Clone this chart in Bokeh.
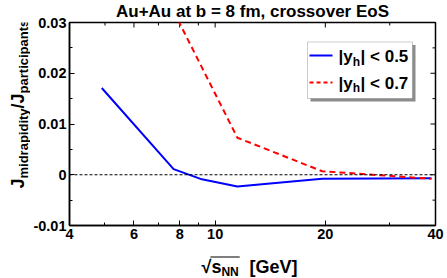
import math
from bokeh.plotting import figure
from bokeh.layouts import column, row
from bokeh.models import (Label, BoxAnnotation, Arrow, Span, FixedTicker, Range1d)
from bokeh.embed import file_html
from bokeh.resources import INLINE

# ---------------- data ----------------
energies_blue = [4.9, 7.7, 9.2, 11.5, 19.6, 39.0]
ratio_blue = [0.0171, 0.0011, -0.0009, -0.0023, -0.0008, -0.0007]
energies_red = [7.7, 11.5, 19.6, 39.0]
ratio_red = [0.0322, 0.0073, 0.0007, -0.0008]

x_ticks = [4, 6, 8, 10, 20, 40]
x_tick_labels = ["4", "6", "8", "10", "20", "40"]
x_minor = [5, 7, 9, 30]
y_ticks = [-0.01, 0, 0.01, 0.02, 0.03]
y_tick_labels = ["-0.01", "0", "0.01", "0.02", "0.03"]
y_minor = [-0.005, 0.005, 0.015, 0.025]

title_text = "Au+Au at b = 8 fm, crossover EoS"
legend_rows = [("|y", "h", "| < 0.5"), ("|y", "h", "| < 0.7")]
ylabel_parts = [("J", False), ("midrapidity", True), ("/J", False), ("participants", True)]
xlabel_parts = ("\u221a", "s", "NN", "[GeV]")

FONT = "Liberation Sans"

# Arial/Liberation Sans Bold advance widths (per 1000 em)
W = {"J": 556, "m": 889, "i": 278, "d": 611, "r": 389, "a": 556, "p": 611,
     "t": 333, "y": 556, "/": 278, "c": 556, "n": 611, "s": 556, "|": 280,
     "h": 611, " ": 278, "<": 584, "0": 556, ".": 278, "5": 556, "7": 556,
     "\u221a": 549, "N": 722, "[": 333, "G": 778, "e": 556, "V": 667, "]": 333}


def tw(text, size):
    return sum(W.get(c, 556) for c in text) * size / 1000.0


# ---------------- geometry (picture pixels) ----------------
WIDTH, HEIGHT = 447, 278
YLAB_W = 30                 # strip at the left holding the y label
XLAB_TOP = 253              # strip at the bottom holding the x label
FL, FR, FT, FB = 66, 435, 22, 225   # plot frame
BASE_FIX = 0.24             # measured offset of Bokeh's alphabetic anchor

x_lo, x_hi = 4, 40
y_lo, y_hi = -0.01, 0.03


def make_label(fig_left, fig_bottom):
    """Put bold text with its baseline at picture pixel coordinates,
    in a figure whose frame starts at (fig_left, fig_bottom)."""
    def put(target, text, px, py, size, angle=0.0, align="left"):
        ax = px - BASE_FIX * size * math.sin(angle)
        ay = py - BASE_FIX * size * math.cos(angle)
        target.add_layout(Label(x=ax - fig_left, y=fig_bottom - ay,
                                x_units="screen", y_units="screen",
                                text=text, text_font=FONT, text_font_style="bold",
                                text_font_size=f"{size}px", text_color="black",
                                text_align=align, text_baseline="alphabetic",
                                angle=angle))
    return put


# ---------------- main plot ----------------
p = figure(width=WIDTH - YLAB_W, height=XLAB_TOP, x_axis_type="log",
           x_range=Range1d(x_lo, x_hi), y_range=Range1d(y_lo, y_hi),
           output_backend="svg", toolbar_location=None,
           min_border_left=FL - YLAB_W, min_border_right=WIDTH - FR,
           min_border_top=FT, min_border_bottom=XLAB_TOP - FB)
p.grid.visible = False
p.outline_line_color = "black"
p.outline_line_width = 1.5
p.background_fill_color = "white"
p.border_fill_color = "white"

p.title.text = title_text
p.title.text_font = FONT
p.title.text_font_style = "bold"
p.title.text_font_size = "17px"
p.title.text_color = "black"
p.title.align = "center"
p.title.vertical_align = "top"
p.title.standoff = 0


def style_axis(ax):
    ax.major_tick_in = 5
    ax.major_tick_out = 0
    ax.minor_tick_in = 3
    ax.minor_tick_out = 0
    ax.axis_line_color = "black"
    ax.axis_line_width = 1.5
    ax.major_tick_line_color = "black"
    ax.minor_tick_line_color = "black"
    ax.major_tick_line_width = 1
    ax.minor_tick_line_width = 1
    ax.major_label_text_font = FONT
    ax.major_label_text_font_style = "bold"
    ax.major_label_text_color = "black"
    ax.major_label_text_font_size = "14.5px"
    ax.major_label_standoff = 3


p.xaxis.ticker = FixedTicker(ticks=x_ticks, minor_ticks=x_minor)
p.yaxis.ticker = FixedTicker(ticks=y_ticks, minor_ticks=y_minor)
p.xaxis.major_label_overrides = {t: l for t, l in zip(x_ticks, x_tick_labels)}
p.yaxis.major_label_overrides = {t: l for t, l in zip(y_ticks, y_tick_labels)}
for ax in p.xaxis:
    style_axis(ax)
for ax in p.yaxis:
    style_axis(ax)

# mirrored inward ticks on top and right edges (clipped to the frame)
p.scatter(x_ticks, [y_hi] * len(x_ticks), marker="dash", angle=math.pi / 2,
          size=10, line_color="black", line_width=1)
p.scatter(x_minor, [y_hi] * len(x_minor), marker="dash", angle=math.pi / 2,
          size=6, line_color="black", line_width=1)
p.scatter([x_hi] * len(y_ticks), y_ticks, marker="dash",
          size=10, line_color="black", line_width=1)
p.scatter([x_hi] * len(y_minor), y_minor, marker="dash",
          size=6, line_color="black", line_width=1)

# zero line
p.add_layout(Span(location=0, dimension="width", line_color="black",
                  line_dash="3 2", line_width=1))

# data lines
p.line(energies_blue, ratio_blue, line_color="#0000ff", line_width=2)
p.line(energies_red, ratio_red, line_color="#ff0000", line_width=2,
       line_dash="6 4")

put_main = make_label(FL, FB)


def box(left, right, top, bottom, **kw):
    p.add_layout(BoxAnnotation(left=left - FL, right=right - FL,
                               top=FB - top, bottom=FB - bottom,
                               left_units="screen", right_units="screen",
                               top_units="screen", bottom_units="screen", **kw))


# legend box with shadow
box(307, 412, 44.5, 101, fill_color="#8c8c8c", fill_alpha=1.0, line_color=None)
box(304, 409, 41.5, 98, fill_color="white", fill_alpha=1.0,
    line_color="#555555", line_width=1)

legend_styles = [("#0000ff", "solid", 55.0, 60.5), ("#ff0000", "4 3", 82.0, 87.0)]
for (a, b, c), (col, dash, ly, base) in zip(legend_rows, legend_styles):
    p.add_layout(Arrow(end=None, x_start=306 - FL, y_start=FB - ly,
                       x_end=329 - FL, y_end=FB - ly,
                       start_units="screen", end_units="screen",
                       line_color=col, line_width=2, line_dash=dash))
    tx = 335.0
    put_main(p, a, tx, base, 17)
    tx += tw(a, 17)
    put_main(p, b, tx, base + 3.5, 12)
    tx += tw(b, 12) + 0.5
    put_main(p, c, tx, base, 17)


def blank_fig(w, h):
    f = figure(width=w, height=h, x_range=Range1d(0, 1), y_range=Range1d(0, 1),
               output_backend="svg", toolbar_location=None,
               x_axis_location=None, y_axis_location=None,
               min_border_left=0, min_border_right=0,
               min_border_top=0, min_border_bottom=0)
    f.grid.visible = False
    f.outline_line_color = None
    f.background_fill_color = "white"
    f.border_fill_color = "white"
    return f


# ---------------- y label strip ----------------
fy = blank_fig(YLAB_W, XLAB_TOP)
put_y = make_label(0, XLAB_TOP)
ypos = 216.0
for txt, sub in ylabel_parts:
    size = 13 if sub else 18
    bx = 26.5 if sub else 22.0
    put_y(fy, txt, bx, ypos, size, angle=math.pi / 2)
    ypos -= tw(txt, size)

# ---------------- x label strip ----------------
fx = blank_fig(WIDTH, HEIGHT - XLAB_TOP)
put_x = make_label(0, HEIGHT)
rad, s_txt, nn_txt, gev_txt = xlabel_parts
x0 = 201.0
put_x(fx, rad, x0, 271.0, 18)
xs = x0 + tw(rad, 18)
put_x(fx, s_txt, xs, 271.0, 18)
xn = xs + tw(s_txt, 18)
put_x(fx, nn_txt, xn, 274.5, 12)
put_x(fx, gev_txt, 249, 271.0, 18)
fx.add_layout(Arrow(end=None, x_start=xs - 1, y_start=HEIGHT - 256.5,
                    x_end=xn + tw(nn_txt, 12) + 1, y_end=HEIGHT - 256.5,
                    start_units="screen", end_units="screen",
                    line_color="black", line_width=1.2))

layout = column(row(fy, p), fx)
open("out.html", "w").write(file_html(layout, INLINE))
